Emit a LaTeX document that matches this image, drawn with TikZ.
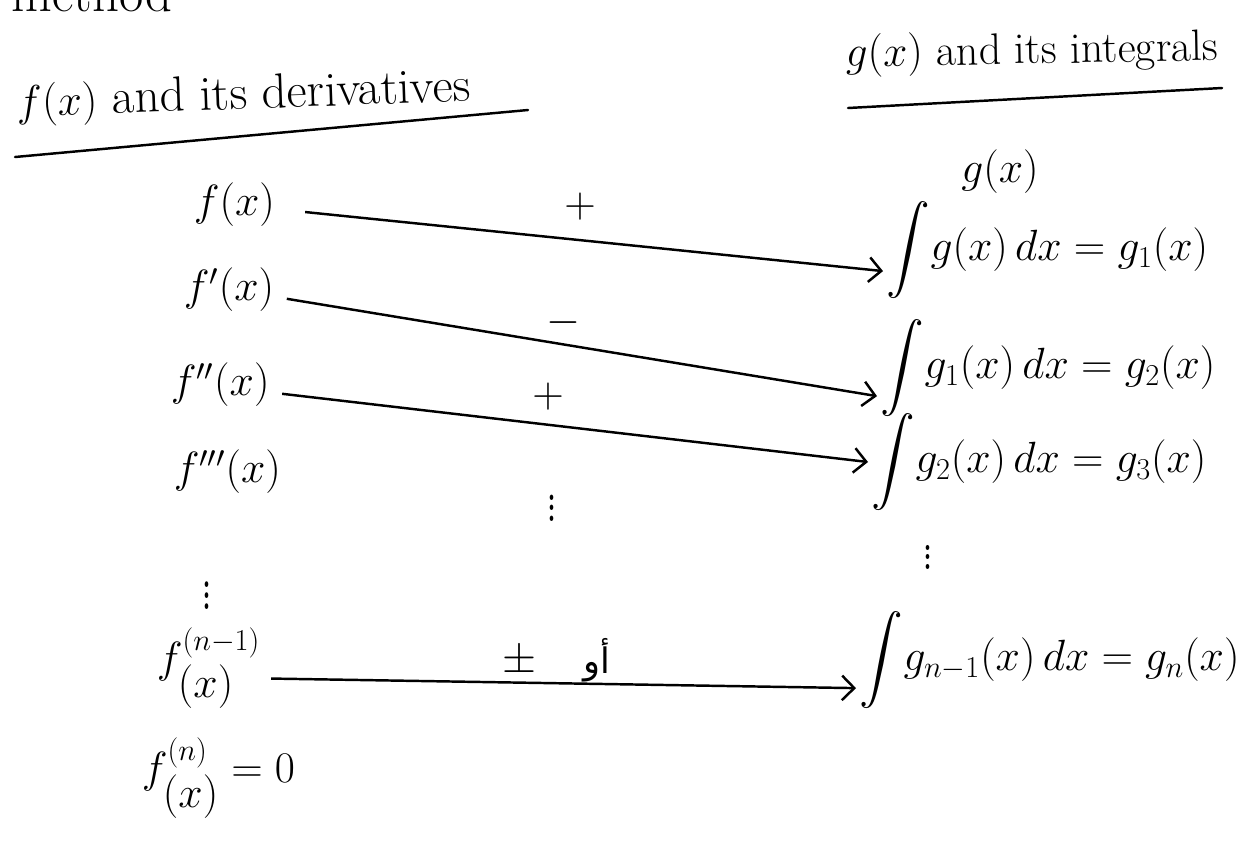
\documentclass[tikz,border=0pt]{standalone}
\usepackage{amsmath}
\usepackage{fontspec}
\usetikzlibrary{arrows.meta}
\newfontfamily\arabicfont[Script=Arabic]{DejaVu Sans}
\TeXXeTstate=1

\begin{document}
\begin{tikzpicture}[x=0.02cm, y=-0.02cm,
  hand/.style={font=\fontsize{25}{30}\selectfont, inner sep=2pt},
  arr/.style={line width=1.4pt, -{Straight Barb[length=7pt,width=14pt]}},
  rule/.style={line width=1.4pt, line cap=round}]
  \useasboundingbox (0,0) rectangle (1256,843);
  \fill[white] (0,0) rectangle (1256,843);

  % headings
  \node[hand, font=\fontsize{30}{34}\selectfont, anchor=base west] (title) at (8,11) {method};
  \node[hand, font=\fontsize{28}{32}\selectfont, anchor=base west, rotate=2] (hdrL) at (13,117) {$f(x)$ and its derivatives};
  \node[hand, anchor=base west, rotate=1] (hdrR) at (842,67) {$g(x)$ and its integrals};
  \draw[rule] (15,157) -- (528,110);
  \draw[rule] (848,108) -- (1222,88);

  % f(x) and its derivatives
  \node[hand, anchor=west] (f0) at (190,205) {$f(x)$};
  \node[hand, anchor=west] (f1) at (180,290) {$f'(x)$};
  \node[hand, anchor=west] (f2) at (167,385) {$f''(x)$};
  \node[hand, anchor=west] (f3) at (170,472) {$f'''(x)$};
  \node[hand, yscale=1.6] (fdots) at (207,587) {$\vdots$};
  \node[hand, anchor=west] (fn1) at (153,668) {$f^{(n-1)}_{\textstyle(x)}$};
  \node[hand, anchor=west] (fn) at (138,778) {$f^{(n)}_{\textstyle(x)}=0$};

  % g(x) and its integrals
  \node[hand] (g0) at (1000,172) {$g(x)$};
  \node[hand, anchor=west] (g1) at (883,250) {$\displaystyle\int\! g(x)\,dx = g_1(x)$};
  \node[hand, anchor=west] (g2) at (877,368) {$\displaystyle\int\! g_1(x)\,dx = g_2(x)$};
  \node[hand, anchor=west] (g3) at (868,462) {$\displaystyle\int\! g_2(x)\,dx = g_3(x)$};
  \node[hand, yscale=1.4] (gdots) at (928,550) {$\vdots$};
  \node[hand, anchor=west] (gn) at (856,660) {$\displaystyle\int\! g_{n-1}(x)\,dx = g_n(x)$};

  % signs
  \node[hand] (s1) at (580,207) {$+$};
  \node[hand] (s2) at (563,323) {$-$};
  \node[hand] (s3) at (548,397) {$+$};
  \node[hand, yscale=1.5] (sdots) at (552,500) {$\vdots$};
  \node[hand] (s4) at (519,662) {$\pm$};
  \node[hand, font=\fontsize{20}{24}\selectfont] (s4ar) at (597,660) {\arabicfont\beginR أو\endR};

  % arrows
  \draw[arr] ([xshift=15pt,yshift=-4pt]f0.east) -- ([yshift=-12pt]g1.west);
  \draw[arr] ([xshift=5pt,yshift=-5pt]f1.east) -- ([yshift=-16pt]g2.west);
  \draw[arr] ([xshift=5pt,yshift=-5pt]f2.east) -- ([yshift=0pt]g3.west);
  \draw[arr] ([xshift=4pt,yshift=-6pt]fn1.east) -- ([yshift=-16pt]gn.west);
\end{tikzpicture}
\end{document}
